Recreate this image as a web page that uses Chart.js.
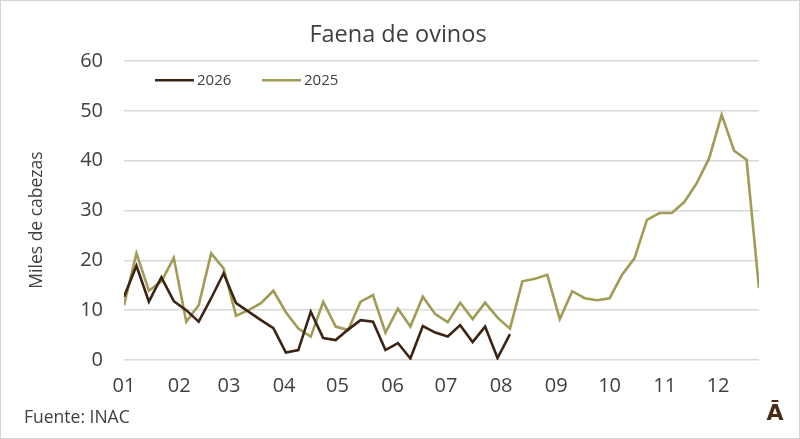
<!DOCTYPE html>
<html>
<head>
<meta charset="utf-8">
<script src="https://cdn.jsdelivr.net/npm/chart.js@4/dist/chart.umd.min.js"></script>
<style>
  html, body { margin: 0; padding: 0; background: #fff; }
  #wrap { width: 800px; height: 439px; position: relative; }
</style>
</head>
<body>
<div id="wrap"><canvas id="faena"></canvas></div>
<script>
// --- datos (miles de cabezas, por semana) ---
const monthLabels = ['01', '02', '03', '04', '05', '06', '07', '08', '09', '10', '11', '12'];
const monthStartDay = [0, 31, 59, 90, 120, 151, 181, 212, 243, 273, 304, 334];
const yTicks = [0, 10, 20, 30, 40, 50, 60];

const serie2026 = [12.7, 18.9, 11.7, 16.6, 11.8, 10.0, 7.7, 12.4, 17.4, 11.4, 9.7, 8.0,
  6.4, 1.5, 2.0, 9.7, 4.4, 4.0, 6.1, 8.0, 7.7, 2.0, 3.4, 0.3, 6.8, 5.5, 4.7, 7.0,
  3.6, 6.7, 0.4, 5.2];
const serie2025 = [11.0, 21.4, 13.9, 15.8, 20.5, 7.7, 11.0, 21.4, 18.4, 8.9, 10.0, 11.4,
  13.9, 9.6, 6.3, 4.7, 11.7, 6.7, 6.0, 11.7, 13.0, 5.5, 10.3, 6.7, 12.7, 9.2, 7.6, 11.5,
  8.2, 11.5, 8.5, 6.3, 15.8, 16.3, 17.1, 8.2, 13.8, 12.4, 12.0, 12.4, 17.1, 20.4,
  28.1, 29.5, 29.5, 31.7, 35.5, 40.5, 49.2, 42.0, 40.2, 14.4];

const COLOR_2026 = '#3c2415';
const COLOR_2025 = '#a09b55';
const TEXT = '#404040';
const FONT = '"Open Sans", sans-serif';

// semana i -> dia del año
const toPoints = arr => arr.map((v, i) => ({ x: i * 7, y: v }));

// titulo, leyenda, fuente, marco
const extras = {
  id: 'extras',
  afterDraw(chart) {
    const ctx = chart.ctx;
    ctx.save();
    // marco gris claro
    ctx.strokeStyle = '#d4d4d4';
    ctx.lineWidth = 1;
    ctx.strokeRect(0.5, 0.5, chart.width - 1, chart.height - 1);

    ctx.textBaseline = 'middle';
    // titulo
    ctx.fillStyle = TEXT;
    ctx.textAlign = 'center';
    ctx.font = '23.5px ' + FONT;
    ctx.fillText('Faena de ovinos', 398, 35);

    // titulo eje y
    ctx.save();
    ctx.translate(37, 220);
    ctx.rotate(-Math.PI / 2);
    ctx.font = '17.5px ' + FONT;
    ctx.fillText('Miles de cabezas', 0, 0);
    ctx.restore();

    // leyenda
    const items = [
      { x: 155, ds: chart.data.datasets[0] },
      { x: 262, ds: chart.data.datasets[1] }
    ];
    ctx.font = '15px ' + FONT;
    ctx.textAlign = 'left';
    items.forEach(it => {
      ctx.fillStyle = it.ds.borderColor;
      ctx.fillRect(it.x, 79, 39, 2.5);
      ctx.fillStyle = TEXT;
      ctx.fillText(it.ds.label, it.x + 42, 81);
    });

    // fuente
    ctx.fillStyle = TEXT;
    ctx.font = '17.5px ' + FONT;
    ctx.fillText('Fuente: INAC', 24, 418);

    // marca
    ctx.fillStyle = '#4a2c17';
    ctx.font = 'bold 22px "DejaVu Sans", sans-serif';
    ctx.textAlign = 'center';
    ctx.fillText('Ā', 775, 414);
    ctx.restore();
  }
};

new Chart(document.getElementById('faena'), {
  type: 'line',
  data: {
    datasets: [
      { label: '2026', data: toPoints(serie2026), borderColor: COLOR_2026, borderWidth: 2.6, pointRadius: 0, tension: 0 },
      { label: '2025', data: toPoints(serie2025), borderColor: COLOR_2025, borderWidth: 2.6, pointRadius: 0, tension: 0 }
    ]
  },
  options: {
    responsive: true,
    maintainAspectRatio: false,
    animation: false,
    layout: { padding: { left: 0, right: 41, top: 61, bottom: 0 } },
    plugins: {
      legend: { display: false },
      tooltip: { enabled: false },
      title: { display: false }
    },
    scales: {
      x: {
        type: 'linear',
        min: 0,
        max: 357,
        grid: { display: false, drawTicks: false },
        border: { display: false },
        afterBuildTicks: scale => { scale.ticks = monthStartDay.map(v => ({ value: v })); },
        afterFit: scale => { scale.height = 79; },
        ticks: {
          autoSkip: false,
          maxRotation: 0,
          padding: 14,
          color: TEXT,
          font: { family: FONT, size: 20 },
          callback: v => monthLabels[monthStartDay.indexOf(v)]
        }
      },
      y: {
        min: 0,
        max: 60,
        afterBuildTicks: scale => { scale.ticks = yTicks.map(v => ({ value: v })); },
        afterFit: scale => { scale.width = 124; },
        grid: { color: '#d9d9d9', lineWidth: 1.5, drawTicks: false },
        border: { display: false },
        ticks: {
          padding: 21,
          color: TEXT,
          font: { family: FONT, size: 20 }
        }
      }
    }
  },
  plugins: [extras]
});
</script>
</body>
</html>
